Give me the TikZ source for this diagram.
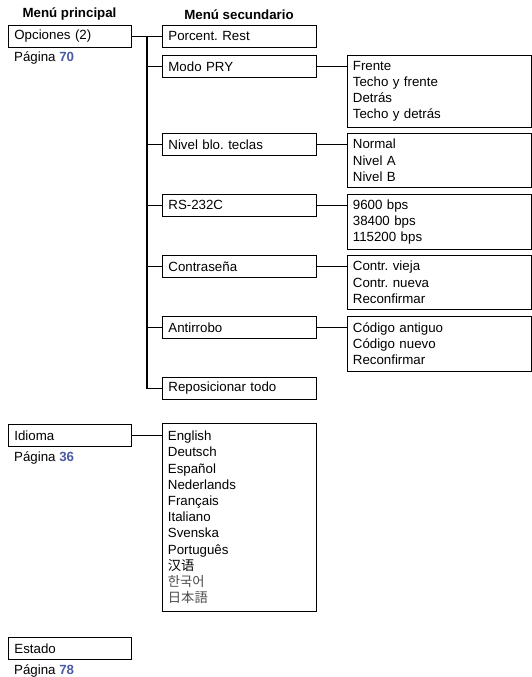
\documentclass[tikz,border=0pt]{standalone}
\usepackage{fontspec}
\usetikzlibrary{calc}
\setmainfont{Liberation Sans}
\newfontfamily\scfont{Noto Sans CJK SC}
\newfontfamily\krfont{Noto Sans CJK KR}
\newfontfamily\jpfont{Noto Sans CJK JP}
\definecolor{pagecol}{HTML}{4A5BA6}
\frenchspacing
\begin{document}
\begin{tikzpicture}[x=1pt,y=-1pt,
  every node/.style={font=\fontsize{13.3}{16.2}\selectfont},
  boxbase/.style={draw, line width=0.8pt, anchor=north west, inner ysep=0pt, align=left},
  mainbox/.style={boxbase, inner xsep=6pt, text width=111pt, minimum height=22pt},
  subbox/.style={boxbase, inner xsep=6pt, text width=142pt, minimum height=22pt},
  optbox/.style={boxbase, inner xsep=5.5pt, text width=173pt},
  langbox/.style={boxbase, inner xsep=5.5pt, text width=143pt, minimum height=188pt},
  heading/.style={font=\fontsize{13.3}{16}\selectfont\bfseries},
  pagelbl/.style={anchor=base west, inner sep=0pt},
  conn/.style={line width=1.3pt}
]
\useasboundingbox (0,0) rectangle (532,677);

% headings
\node[heading] (h1) at (69.5,14.5) {Menú principal};
\node[heading] (h2) at (239,14.5) {Menú secundario};

% main menu boxes
\node[mainbox] (opc) at (8,25) {Opciones (2)};
\node[pagelbl] (p70) at (14,62) {Página \textbf{\color{pagecol}70}};
\node[mainbox] (idi) at (8,424) {Idioma};
\node[pagelbl] (p36) at (14,461) {Página \textbf{\color{pagecol}36}};
\node[mainbox] (est) at (8,637) {Estado};
\node[pagelbl] (p78) at (14,674) {Página \textbf{\color{pagecol}78}};

% sub menu boxes
\node[subbox] (porc) at (162,25) {Porcent. Rest};
\node[subbox] (modo) at (162,55) {Modo PRY};
\node[subbox] (nivel) at (162,133) {Nivel blo. teclas};
\node[subbox] (rs) at (162,194) {RS-232C};
\node[subbox] (contr) at (162,255) {Contraseña};
\node[subbox] (anti) at (162,316) {Antirrobo};
\node[subbox] (repo) at (162,377) {Reposicionar todo};

% option boxes
\node[optbox, minimum height=72pt] (optmodo) at (347,55) {Frente\\Techo y frente\\Detrás\\Techo y detrás};
\node[optbox, minimum height=54pt] (optnivel) at (347,133) {Normal\\Nivel A\\Nivel B};
\node[optbox, minimum height=55pt] (optrs) at (347,194) {9600 bps\\38400 bps\\115200 bps};
\node[optbox, minimum height=54pt] (optcontr) at (347,255) {Contr. vieja\\Contr. nueva\\Reconfirmar};
\node[optbox, minimum height=55pt] (optanti) at (347,316) {Código antiguo\\Código nuevo\\Reconfirmar};

\node[langbox] (lang) at (162,423) {English\\Deutsch\\Español\\Nederlands\\Français\\Italiano\\Svenska\\Português\\{\scfont 汉语}\\{\krfont\color{black!70}한국어}\\{\jpfont\color{black!70}日本語}};

% connectors
\coordinate (bus) at ($(opc.east)!0.5!(porc.west)$);
\draw[conn] (opc.east) -- (porc.west);
\draw[conn] (bus) |- (repo.west);
\foreach \n in {modo,nivel,rs,contr,anti}{
  \draw[conn] (bus |- \n.west) -- (\n.west);
}
\draw[conn] (modo.east) -- (modo.east -| optmodo.west);
\draw[conn] (nivel.east) -- (nivel.east -| optnivel.west);
\draw[conn] (rs.east) -- (rs.east -| optrs.west);
\draw[conn] (contr.east) -- (contr.east -| optcontr.west);
\draw[conn] (anti.east) -- (anti.east -| optanti.west);
\draw[conn] (idi.east) -- (idi.east -| lang.west);
\end{tikzpicture}
\end{document}
